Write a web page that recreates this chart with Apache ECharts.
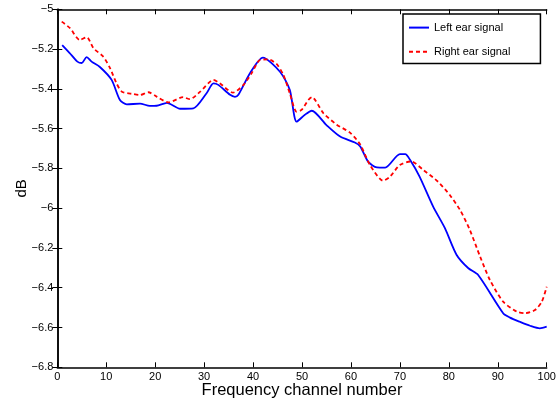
<!DOCTYPE html>
<html><head><meta charset="utf-8">
<script src="https://cdn.jsdelivr.net/npm/echarts@6/dist/echarts.min.js"></script>
<style>html,body{margin:0;padding:0;background:#fff}#c{width:560px;height:400px}</style>
</head><body><div id="c"></div>
<script>
var seriesNames = ['Left ear signal', 'Right ear signal'];
var xTicks = [0, 10, 20, 30, 40, 50, 60, 70, 80, 90, 100];
var yTicks = [-6.8, -6.6, -6.4, -6.2, -6, -5.8, -5.6, -5.4, -5.2, -5];

var leftX = [1, 2.25, 2.9, 4.1, 5, 6, 7, 8.7, 11.1, 12.8, 14.2, 16.9, 18.9, 20.3, 22.4, 25.1, 27.8, 30.5, 31.9, 32.9, 35.3, 36.3, 37, 39.4, 42, 45.5, 47.5, 48.9, 50.6, 52, 55, 57.8, 60.8, 61.9, 63.5, 65.3, 67, 70, 71.1, 72.1, 74, 76.8, 79.2, 81.6, 84, 86, 91.1, 92.5, 94.5, 96.6, 98.6, 100];
var leftY = [-5.18, -5.213, -5.23, -5.263, -5.27, -5.24, -5.263, -5.29, -5.355, -5.456, -5.478, -5.474, -5.486, -5.485, -5.47, -5.5, -5.498, -5.422, -5.372, -5.38, -5.43, -5.44, -5.43, -5.32, -5.243, -5.314, -5.405, -5.565, -5.53, -5.51, -5.582, -5.64, -5.67, -5.69, -5.766, -5.795, -5.796, -5.728, -5.728, -5.758, -5.84, -5.992, -6.1, -6.235, -6.302, -6.336, -6.528, -6.55, -6.571, -6.591, -6.604, -6.596];

var rightX = [0.9, 2.6, 4.6, 6, 7.4, 9.4, 10.8, 12.1, 13.2, 15.5, 16.9, 18.6, 20.3, 22.7, 25.7, 27.1, 29.2, 31.9, 33.2, 35.9, 38, 39.7, 41.4, 43.1, 44.8, 46.2, 47.5, 48.9, 49.9, 51.3, 52, 54.4, 57.1, 59.8, 61.9, 63.9, 66.6, 68, 70, 72.3, 74.8, 77.8, 80.2, 82.3, 84.3, 86.4, 88.4, 91.1, 93.9, 95.6, 97.6, 99, 100];
var rightY = [-5.062, -5.095, -5.154, -5.14, -5.196, -5.238, -5.297, -5.372, -5.414, -5.426, -5.431, -5.417, -5.439, -5.468, -5.442, -5.452, -5.414, -5.355, -5.372, -5.419, -5.381, -5.322, -5.255, -5.252, -5.275, -5.33, -5.422, -5.515, -5.506, -5.456, -5.442, -5.523, -5.58, -5.62, -5.68, -5.783, -5.862, -5.841, -5.783, -5.765, -5.808, -5.867, -5.934, -6.009, -6.11, -6.244, -6.361, -6.47, -6.52, -6.528, -6.512, -6.47, -6.395];

function pairs(xs, ys) { return xs.map(function (x, i) { return [x, ys[i]]; }); }
var FONT = 'Liberation Sans, Arial, Helvetica, sans-serif';
var fmtY = function (v) { return String(Math.round(v * 10) / 10).replace('-', '\u2212'); };

var chart = echarts.init(document.getElementById('c'), null, {renderer: 'canvas'});
var axisLine = {show: true, lineStyle: {color: '#000', width: 1.5}};
var tick = {show: true, inside: true, length: 5, lineStyle: {color: '#000', width: 1}};
chart.setOption({
  animation: false,
  backgroundColor: '#fff',
  textStyle: {fontFamily: FONT},
  grid: {left: 57.3, right: 13.3, top: 9.3, bottom: 32.7, containLabel: false, outerBoundsMode: 'none'},
  legend: {
    orient: 'vertical', left: 403, top: 14,
    padding: [8, 30, 6, 5], itemGap: 13, itemWidth: 20, itemHeight: 14,
    borderColor: '#000', borderWidth: 1.5, backgroundColor: '#fff',
    itemStyle: {opacity: 0, borderWidth: 0},
    textStyle: {fontFamily: FONT, fontSize: 11, color: '#000'},
    data: seriesNames
  },
  xAxis: [{
    type: 'value', min: xTicks[0], max: xTicks[xTicks.length - 1], interval: 10,
    axisLine: axisLine, axisTick: tick, splitLine: {show: false},
    axisLabel: {fontFamily: FONT, fontSize: 11, color: '#000', margin: 4},
    name: 'Frequency channel number', nameLocation: 'middle', nameGap: 15, nameMoveOverlap: false,
    nameTextStyle: {fontFamily: FONT, fontSize: 16.5, color: '#000'}
  }, {
    type: 'value', position: 'top', min: 0, max: 100, interval: 10,
    axisLine: axisLine, axisTick: tick, axisLabel: {show: false}, splitLine: {show: false}
  }],
  yAxis: [{
    type: 'value', min: yTicks[0], max: yTicks[yTicks.length - 1], interval: 0.2,
    axisLine: axisLine, axisTick: tick, splitLine: {show: false},
    axisLabel: {fontFamily: FONT, fontSize: 11, color: '#000', margin: 4, formatter: fmtY},
    name: 'dB', nameLocation: 'middle', nameGap: 28, nameRotate: 90, nameMoveOverlap: false,
    nameTextStyle: {fontFamily: FONT, fontSize: 15, color: '#000'}
  }, {
    type: 'value', position: 'right', min: -6.8, max: -5, interval: 0.2,
    axisLine: axisLine, axisTick: tick, axisLabel: {show: false}, splitLine: {show: false}
  }],
  series: [{
    name: seriesNames[0], type: 'line', xAxisIndex: 0, yAxisIndex: 0,
    data: pairs(leftX, leftY), showSymbol: false, symbol: 'none', smooth: 0.25,
    lineStyle: {color: '#0000ff', width: 1.8}, itemStyle: {color: '#0000ff'}
  }, {
    name: seriesNames[1], type: 'line', xAxisIndex: 0, yAxisIndex: 0,
    data: pairs(rightX, rightY), showSymbol: false, symbol: 'none', smooth: 0.25,
    lineStyle: {color: '#ff0000', width: 1.8, type: [4, 3]}, itemStyle: {color: '#ff0000'}
  }]
});
</script></body></html>
